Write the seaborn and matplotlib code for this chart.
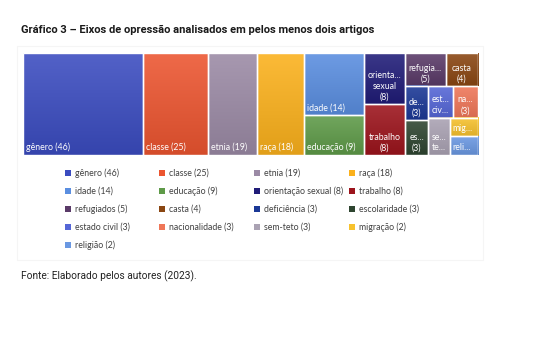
"""Treemap of axes of oppression (Gráfico 3)."""

import matplotlib

matplotlib.use("Agg")
import matplotlib.pyplot as plt
import numpy as np
import seaborn as sns
from matplotlib.colors import to_rgb
from matplotlib.patches import Rectangle

# Data
categories = [
    "gênero", "classe", "etnia", "raça", "idade", "educação",
    "orientação sexual", "trabalho", "refugiados", "casta", "deficiência",
    "escolaridade", "estado civil", "nacionalidade", "sem-teto",
    "migração", "religião",
]
counts = [46, 25, 19, 18, 14, 9, 8, 8, 5, 4, 3, 3, 3, 3, 3, 2, 2]

# Text shown inside each tile (Excel truncates the small ones)
tile_labels = [
    "gênero (46)", "classe (25)", "etnia (19)", "raça (18)", "idade (14)",
    "educação (9)", "orienta...\nsexual\n(8)", "trabalho\n(8)",
    "refugia...\n(5)", "casta\n(4)", "de...\n(3)", "es...\n(3)",
    "est...\nciv...", "na...\n(3)", "se...\nte...", "mig...", "reli...",
]

colors = [
    "#3b4cc0", "#ec5530", "#9b8aa5", "#fbb11c", "#5a8ee0", "#5e9a48",
    "#201c78", "#9c141c", "#5a3a68", "#8a4612", "#1b3896", "#2e4530",
    "#5566d6", "#ef7658", "#aaa2b3", "#f7c22e", "#6a98e2",
]

title = "Gráfico 3 – Eixos de opressão analisados em pelos menos dois artigos"
source = "Fonte: Elaborado pelos autores (2023)."


def worst_ratio(areas, side):
    """Worst aspect ratio of a strip of areas laid along a side."""
    length = sum(areas) / side
    return max(max(length / (a / length), (a / length) / length) for a in areas)


def treemap_layout(values, width, height, target=1.6):
    """Strip layout: a tile joins the previous one only if that makes both acceptable."""
    scale = width * height / sum(values)
    areas = [v * scale for v in values]
    x, y, w, h = 0.0, 0.0, width, height
    rects = []
    i = 0
    while i < len(areas):
        vertical = w >= h
        side = h if vertical else w
        row = [areas[i]]
        if (
            worst_ratio(row, side) > target
            and i + 1 < len(areas)
            and worst_ratio(row + [areas[i + 1]], side) <= target
        ):
            row.append(areas[i + 1])
        length = sum(row) / side
        if vertical:
            top = y + h
            for a in row:
                hh = a / length
                rects.append((x, top - hh, length, hh))
                top -= hh
            x += length
            w -= length
        else:
            left = x
            for a in row:
                ww = a / length
                rects.append((left, y + h - length, ww, length))
                left += ww
            h -= length
        i += len(row)
    return rects


def mix(c, other, t):
    c = np.array(to_rgb(c))
    return c * (1 - t) + np.array(other) * t


sns.set_theme(style="white")
plt.rcParams["font.family"] = ["Lato", "DejaVu Sans"]

W, H = 534, 349
fig = plt.figure(figsize=(W / 100, H / 100), dpi=100)

# Treemap axes in pixel units
x0, y0, tw, th = 23, 53, 455, 102
ax = fig.add_axes([x0 / W, 1 - (y0 + th) / H, tw / W, th / H])

rects = treemap_layout(counts, tw, th)
grad = np.linspace(0, 1, 64)[:, None, None]
for (rx, ry, rw, rh), c, lab in zip(rects, colors, tile_labels):
    top = mix(c, (1, 1, 1), 0.12)
    bottom = mix(c, (0, 0, 0), 0.10)
    img = bottom * (1 - grad) + top * grad
    ax.imshow(
        img, extent=(rx, rx + rw, ry, ry + rh), origin="lower",
        aspect="auto", interpolation="bilinear", zorder=1,
    )
    ax.add_patch(
        Rectangle((rx, ry), rw, rh, fill=False, edgecolor="white", lw=1.0, zorder=2)
    )
    if "\n" in lab:
        ax.text(rx + rw / 2, ry + 2.5, lab, ha="center", va="bottom",
                multialignment="center", color="white", fontsize=6.3,
                linespacing=1.25, zorder=3)
    else:
        ax.text(rx + 3, ry + 3, lab, ha="left", va="bottom",
                color="white", fontsize=6.3, zorder=3)

ax.set_xlim(0, tw)
ax.set_ylim(0, th)
ax.set_axis_off()

# Legend, four entries per row
leg_x = [68, 162, 257, 352]
for i, (name, n, c) in enumerate(zip(categories, counts, colors)):
    row, col = divmod(i, 4)
    px = leg_x[col]
    py = 173 + row * 18.1
    fig.patches.append(
        Rectangle(((px - 3) / W, 1 - (py + 3) / H), 6 / W, 6 / H,
                  transform=fig.transFigure, facecolor=c, edgecolor="none")
    )
    fig.text((px + 7) / W, 1 - py / H, f"{name} ({n})", ha="left", va="center",
             fontsize=6.3, color="#404040")

# Faint chart frame
fig.patches.append(
    Rectangle((17 / W, 1 - 260 / H), 466 / W, 214 / H, transform=fig.transFigure,
              fill=False, edgecolor="#f5f5f5", lw=0.8)
)

fig.text(21 / W, 1 - 30 / H, title, ha="left", va="center", fontsize=8.0,
         fontweight="bold", family=["Roboto", "DejaVu Sans"], color="#1a1a1a")
fig.text(21 / W, 1 - 276 / H, source, ha="left", va="center", fontsize=7.3,
         family=["Roboto", "DejaVu Sans"], color="#222222")

fig.savefig("out.png", dpi=100, facecolor="white")
plt.close(fig)
